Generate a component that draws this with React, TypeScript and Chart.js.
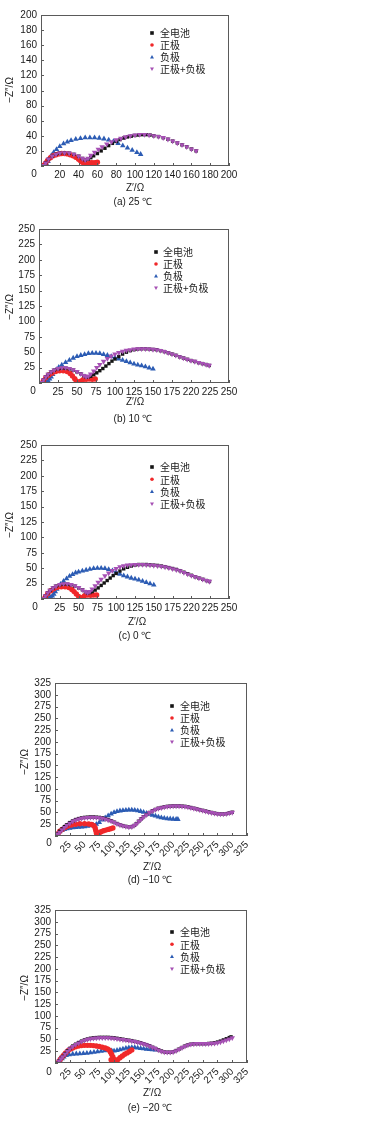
import React, { useEffect, useRef } from 'react';
import { Chart, registerables } from 'chart.js';

Chart.register(...registerables);

type Pt = [number, number];

// ---------- legend / series meta ----------
const SERIES_NAMES = ['全电池', '正极', '负极', '正极+负极'];
const SERIES_COLORS = ['#141414', '#f0282a', '#2c5cb4', '#a650b4'];
const SERIES_STYLES = ['rect', 'circle', 'triangle', 'triangle'];
const SERIES_ROT = [0, 0, 0, 180];
const SERIES_ORDER = [1, 2, 3, 0];
const SERIES_RADIUS = [2.4, 2.7, 3.2, 3.2];

// ---------- (a) 25 ℃ ----------
const A_FULL: Pt[] = [[3,0.5],[5,4],[8,9],[12,13],[16,15.5],[20,17],[25,17.5],[30,17],[35,15.5],[40,13],[44,10],[47,8],[50,9],[53,11],[56,13.5],[60,16.5],[64,20],[68,23.5],[72,27],[76,30],[80,32.5],[84,35],[88,37],[92,38.5],[96,39.5],[100,40.5],[104,41],[108,41.5],[112,41.5],[116,41],[120,40],[125,39],[130,37.5],[135,35.5],[140,33],[145,30.5],[150,28],[155,25.5],[160,22.5],[165,20]];
const A_POS: Pt[] = [[3,1],[5,4],[7,7.5],[10,11],[13,13.5],[16,15],[19,16],[22,16.5],[25,16.5],[28,16],[31,15],[34,13.5],[37,11.5],[40,9],[42,7],[44,5],[46,3],[48,2.5],[50,3],[52,4],[54,4.5],[56,4],[58,4.5],[60,5]];
const A_NEG: Pt[] = [[5,0],[6,2.5],[7.5,6],[9,10],[11,14],[13.5,18],[16.5,22],[20,26],[24,29.5],[28,32],[32,34],[37,35.5],[42,36.5],[47,37.5],[52,37.5],[57,37.5],[62,37],[67,36],[72,34.5],[77,32.5],[82,30],[87,27],[92,24],[97,21],[102,18],[106,15.5]];
const A_SUM: Pt[] = [[3,0.5],[5,4],[8,9],[12,13],[16,15.5],[20,17],[25,17.5],[30,17],[35,15.5],[40,13],[44,10],[47,8],[50,10],[53,14],[57,18],[61,22],[65,25.5],[70,29],[75,32],[80,34.5],[85,36.5],[90,38.5],[95,40],[100,41],[105,41.5],[110,41.5],[115,41],[120,40],[125,39],[130,37.5],[135,35.5],[140,33],[145,30.5],[150,28],[155,25.5],[160,22.5],[165,20]];
const A_XLABELS = ['', '20', '40', '60', '80', '100', '120', '140', '160', '180', '200'];
const A_YLABELS = ['', '20', '40', '60', '80', '100', '120', '140', '160', '180', '200'];

// ---------- (b) 10 ℃ ----------
const B_FULL: Pt[] = [[4,0.5],[6,5],[9,10],[12,14],[16,18],[20,21],[25,23],[30,24],[35,24],[40,23],[45,21],[50,18],[55,15],[59,12],[62,10],[65,10],[68,11],[72,13.5],[76,16.5],[80,20],[84,23.5],[88,27.5],[92,31.5],[96,35.5],[100,39],[105,43],[110,47],[115,50],[120,52.5],[125,54],[130,55],[135,55.5],[140,55.5],[145,55],[150,54.5],[155,54],[160,52.5],[165,51],[170,49],[175,47],[180,45],[185,42.5],[190,40.5],[195,38.5],[200,36.5],[205,35],[210,33],[215,31.5],[220,30],[224,28.5]];
const B_POS: Pt[] = [[4,0],[6,4],[9,9],[13,13],[17,16],[22,18.5],[27,20],[32,20],[37,18.5],[41,15.5],[44,11.5],[47,7],[49,3.5],[51,1.5],[53,1],[55,3],[58,5.5],[62,6],[66,6.5],[70,6],[74,6.5]];
const B_NEG: Pt[] = [[8,0],[10,1.5],[12,3.5],[14,6.5],[16,10],[18,14],[20,18],[23,22],[26,25.5],[30,29.5],[35,33.5],[40,37],[45,40.5],[50,43],[55,45],[60,46.5],[65,48],[70,48.5],[75,48.5],[80,48],[85,46.5],[90,45],[95,43],[100,41],[105,39],[110,37],[115,35],[120,33],[125,31],[130,29.5],[135,28],[140,26.5],[145,24.5],[150,23]];
const B_SUM: Pt[] = [[4,0.5],[6,5],[9,10],[12,14],[16,18],[20,21],[25,23.5],[30,24.5],[35,24.5],[40,23.5],[45,21.5],[50,18.5],[55,15],[59,12],[62,10],[65,11],[68,14.5],[72,19.5],[76,25],[80,30],[85,35],[90,39.5],[95,43.5],[100,47],[105,49.5],[110,51.5],[115,53],[120,54],[125,55],[130,55.5],[135,55.5],[140,55.5],[145,55],[150,54.5],[155,54],[160,52.5],[165,51],[170,49],[175,47],[180,45],[185,42.5],[190,40.5],[195,38.5],[200,36.5],[205,35],[210,33],[215,31.5],[220,30],[224,28.5]];
const B_XLABELS = ['', '25', '50', '75', '100', '125', '150', '175', '220', '225', '250'];
const B_YLABELS = ['', '25', '50', '75', '100', '125', '150', '175', '200', '225', '250'];

// ---------- (c) 0 ℃ ----------
const C_FULL: Pt[] = [[4,0.5],[6,5],[9,10],[12,14],[16,18],[20,21],[25,23],[30,24],[35,24],[40,23],[45,21],[50,18],[55,15],[59,12],[62,10],[65,10.5],[68,12],[72,14.5],[76,18],[80,22],[84,26],[88,30],[92,34],[96,38],[100,41.5],[105,45.5],[110,49],[115,51.5],[120,53.5],[125,55],[130,56],[135,56],[140,56],[145,55.5],[150,55],[155,54.5],[160,53.5],[165,52.5],[170,51],[175,49.5],[180,48],[185,46],[190,43.5],[195,41],[200,38.5],[205,36],[210,34],[215,32],[220,30],[224,28.5]];
const C_POS: Pt[] = [[4,0],[6,4],[9,9],[13,13.5],[17,16.5],[22,19],[27,20],[32,20],[37,18.5],[41,15.5],[44,12],[47,8],[50,4],[52,1],[54,0.5],[56,3],[58,5.5],[62,6.5],[66,6],[70,6.5],[74,6.5]];
const C_NEG: Pt[] = [[7,0],[9,1],[11,2],[13,3],[15,5],[17,8],[19,12],[21,16],[23,20],[26,24],[30,29],[34,33],[38,37],[42,40],[46,42.5],[50,44],[55,45.5],[60,47],[65,48.5],[70,49.5],[75,50],[80,50],[85,49.5],[90,48],[95,46],[100,43.5],[105,40.5],[110,38],[115,36],[120,34],[125,32.5],[130,31],[135,29],[140,27],[145,25],[150,23]];
const C_SUM: Pt[] = [[4,0.5],[6,5],[9,10],[12,14],[16,18],[20,21],[25,23.5],[30,24.5],[35,24.5],[40,23.5],[45,21.5],[50,18.5],[55,15],[59,12],[62,10],[65,12],[68,16],[72,21.5],[76,27],[80,32],[85,37.5],[90,42],[95,46],[100,49.5],[105,52],[110,54],[115,55],[120,55.5],[125,56],[130,56],[135,56],[140,55.5],[145,55],[150,54.5],[155,54],[160,53],[165,52],[170,50.5],[175,49],[180,47.5],[185,45.5],[190,43],[195,40.5],[200,38],[205,36],[210,34],[215,32],[220,30],[224,28.5]];
const C_XLABELS = ['', '25', '50', '75', '100', '125', '150', '175', '220', '225', '250'];
const C_YLABELS = ['', '25', '50', '75', '100', '125', '150', '175', '200', '225', '250'];

// ---------- (d) −10 ℃ ----------
const D_FULL: Pt[] = [[3,1],[5,5],[8,10],[12,15],[16,20],[20,24],[25,28.5],[30,32],[35,35],[40,37],[45,38.5],[50,39.5],[55,40],[60,40.5],[65,40.5],[70,40],[75,39.5],[80,38.5],[85,37],[90,35],[95,32.5],[100,29.5],[105,26.5],[110,24],[115,22],[120,20.5],[125,19.5],[130,20],[134,22.5],[138,26.5],[142,31.5],[146,36.5],[150,41],[155,45.5],[160,50],[165,53.5],[170,56.5],[175,59],[180,60.5],[185,62],[190,63],[195,63.5],[200,64],[205,64],[210,64],[215,63.5],[220,63],[225,62],[230,60.5],[235,59],[240,57.5],[245,56],[250,54.5],[255,53],[260,51.5],[265,50],[270,48.5],[275,47.5],[280,47],[285,47],[290,47.5],[295,49],[300,50.5]];
const D_POS: Pt[] = [[3,0],[5,5],[8,10],[12,14],[17,18],[22,21],[28,23.5],[35,25],[42,26],[50,26],[57,25.5],[62,24.5],[66,22],[68,17],[69,12],[70,7],[71,3],[71.5,0.5],[73,5],[75,7],[78,9],[82,11],[86,12.5],[90,14],[94,15.5],[98,17]];
const D_NEG: Pt[] = [[3,0],[5,5],[8,9],[12,12],[16,14],[20,15.5],[25,16.5],[30,17.5],[35,18.5],[40,19],[45,19.5],[50,20],[55,21],[60,22],[65,23],[70,25],[75,29],[80,34],[85,39],[90,43],[95,47],[100,50],[105,52],[110,53.5],[115,54.5],[120,55],[125,55.5],[130,55.5],[135,55],[140,54],[145,52.5],[150,50.5],[155,48.5],[160,46.5],[165,44.5],[170,42.5],[175,40.5],[180,39],[185,38],[190,37],[195,36.5],[200,36],[205,35.5],[208,35.5]];
const D_SUM: Pt[] = [[3,0.5],[5,4],[8,8],[12,13],[16,18],[20,22.5],[25,27],[30,31],[35,34],[40,36],[45,37.5],[50,38.5],[55,39],[60,39.5],[65,39.5],[70,39],[75,38.5],[80,37.5],[85,36],[90,34],[95,31.5],[100,29],[105,26],[110,23.5],[115,21.5],[120,20],[125,19],[130,19.5],[134,22],[138,26],[142,31],[146,36],[150,40.5],[155,45],[160,49.5],[165,53],[170,56],[175,58.5],[180,60],[185,61.5],[190,62.5],[195,63],[200,63.5],[205,63.5],[210,63.5],[215,63],[220,62.5],[225,61.5],[230,60],[235,58.5],[240,57],[245,55.5],[250,54],[255,52.5],[260,51],[265,49.5],[270,48],[275,47],[280,46.5],[285,46.5],[290,47],[295,48.5],[300,50]];
const D_XLABELS = ['', '25', '50', '75', '100', '125', '150', '175', '200', '225', '250', '275', '300', '325'];
const D_YLABELS = ['', '25', '50', '75', '100', '125', '150', '175', '200', '225', '250', '275', '300', '325'];

// ---------- (e) −20 ℃ ----------
const E_FULL: Pt[] = [[5,0.5],[7,5],[10,10],[13,14],[17,20],[21,26],[25,31],[30,36],[35,40],[40,43.5],[45,46.5],[50,49],[55,51],[60,52.5],[65,53.5],[70,54],[75,54.5],[80,54.5],[85,54.5],[90,54.5],[95,54],[100,53.5],[105,52.5],[110,51.5],[115,50.5],[120,49.5],[125,48.5],[130,47.5],[135,46],[140,44.5],[145,43],[150,41],[155,39],[160,36.5],[165,33.5],[170,31],[175,28],[180,25.5],[185,23.5],[190,23],[195,23],[200,24],[205,26.5],[210,29.5],[215,33],[220,36],[225,38.5],[230,40],[235,41],[240,41],[245,41],[250,41],[255,41],[260,41.5],[265,42],[270,43],[275,44.5],[280,46.5],[285,49],[290,51.5],[295,54],[298,55.5]];
const E_POS: Pt[] = [[5,0],[7,4],[9,8],[12,13],[15,17],[18,21.5],[22,26],[26,29.5],[30,32],[35,34.5],[40,36],[45,37],[50,37.5],[55,37.5],[60,37.5],[65,37],[70,36],[75,35],[80,33.5],[85,32],[89,30],[92,27],[94,23],[96,18],[98,13],[99.5,8],[100.5,4],[101,0.5],[103,3],[106,7],[110,11],[114,15],[118,18.5],[122,21.5],[126,24.5],[130,27.5],[97,4],[95,7]];
const E_NEG: Pt[] = [[7,0],[9,4],[12,9],[15,13],[19,16],[24,18],[30,19],[36,19.5],[42,20],[48,20.5],[54,21],[60,22],[66,23],[72,24],[78,25],[84,26],[90,26.5],[96,26],[100,25.5],[105,27],[110,28.5],[115,30],[120,31.5],[125,32.5],[130,33],[135,33],[140,32],[145,31],[150,30.5],[155,29.5],[160,29],[165,28.5],[170,28]];
const E_SUM: Pt[] = [[5,0],[7,4],[10,9],[13,13],[17,19],[21,25],[25,30],[30,35],[35,39],[40,42.5],[45,45.5],[50,48],[55,50],[60,51.5],[65,52.5],[70,53],[75,53.5],[80,53.5],[85,53.5],[90,53.5],[95,53],[100,52.5],[105,51.5],[110,50.5],[115,49.5],[120,48.5],[125,47.5],[130,46.5],[135,45.5],[140,44],[145,42.5],[150,40.5],[155,38.5],[160,36],[165,33],[170,30.5],[175,27.5],[180,25],[185,23],[190,22.5],[195,22.5],[200,23.5],[205,26],[210,29],[215,32.5],[220,35.5],[225,38],[230,39.5],[235,40.5],[240,41],[245,41],[250,41],[255,41],[260,41],[265,41.5],[270,42],[275,43],[280,44.5],[285,46.5],[290,48.5],[295,51],[300,53.5]];
const E_XLABELS = D_XLABELS;
const E_YLABELS = D_YLABELS;

interface Panel {
  top: number; height: number;
  l: number; r: number; t: number; b: number;
  xMax: number; xStep: number; yMax: number; yStep: number;
  xLabels: string[]; yLabels: string[]; rotate: boolean;
  series: Pt[][];
  leg: { mx: number; y0: number; dy: number; tx: number };
  yTitle: [number, number]; xTitle: [number, number];
  caption: string; cap: [number, number]; zero: [number, number];
}

const PANELS: Panel[] = [
  { top: 0, height: 215, l: 41, r: 229, t: 15, b: 166, xMax: 200, xStep: 20, yMax: 200, yStep: 20,
    xLabels: A_XLABELS, yLabels: A_YLABELS, rotate: false, series: [A_FULL, A_POS, A_NEG, A_SUM],
    leg: { mx: 152, y0: 33, dy: 12, tx: 160 }, yTitle: [10, 90], xTitle: [135, 188],
    caption: '(a) 25 ℃', cap: [133, 202], zero: [34, 174] },
  { top: 215, height: 215, l: 39, r: 229, t: 229, b: 383, xMax: 250, xStep: 25, yMax: 250, yStep: 25,
    xLabels: B_XLABELS, yLabels: B_YLABELS, rotate: false, series: [B_FULL, B_POS, B_NEG, B_SUM],
    leg: { mx: 156, y0: 252, dy: 12, tx: 163 }, yTitle: [10, 307], xTitle: [135, 402],
    caption: '(b) 10 ℃', cap: [133, 419], zero: [33, 391] },
  { top: 430, height: 220, l: 41, r: 229, t: 445, b: 599, xMax: 250, xStep: 25, yMax: 250, yStep: 25,
    xLabels: C_XLABELS, yLabels: C_YLABELS, rotate: false, series: [C_FULL, C_POS, C_NEG, C_SUM],
    leg: { mx: 152, y0: 467, dy: 12.3, tx: 160 }, yTitle: [10, 525], xTitle: [137, 622],
    caption: '(c) 0 ℃', cap: [135, 636], zero: [35, 607] },
  { top: 650, height: 240, l: 55, r: 247, t: 683, b: 836, xMax: 325, xStep: 25, yMax: 325, yStep: 25,
    xLabels: D_XLABELS, yLabels: D_YLABELS, rotate: true, series: [D_FULL, D_POS, D_NEG, D_SUM],
    leg: { mx: 172, y0: 706, dy: 12, tx: 180 }, yTitle: [25, 762], xTitle: [152, 867],
    caption: '(d) −10 ℃', cap: [150, 880], zero: [49, 843] },
  { top: 890, height: 247, l: 55, r: 247, t: 910, b: 1063, xMax: 325, xStep: 25, yMax: 325, yStep: 25,
    xLabels: E_XLABELS, yLabels: E_YLABELS, rotate: true, series: [E_FULL, E_POS, E_NEG, E_SUM],
    leg: { mx: 172, y0: 932, dy: 12.3, tx: 180 }, yTitle: [25, 988], xTitle: [152, 1093],
    caption: '(e) −20 ℃', cap: [150, 1108], zero: [49, 1072] },
];

const W = 383;
const FONT = '"Liberation Sans", Arial, sans-serif';
const CJK = '"Noto Sans CJK SC", sans-serif';
const XAXIS_H = 30;

function drawMarker(ctx: CanvasRenderingContext2D, i: number, x: number, y: number, r: number) {
  ctx.fillStyle = SERIES_COLORS[i];
  ctx.beginPath();
  const s = SERIES_STYLES[i];
  if (s === 'rect') {
    ctx.rect(x - r, y - r, 2 * r, 2 * r);
  } else if (s === 'circle') {
    ctx.arc(x, y, r, 0, Math.PI * 2);
  } else if (SERIES_ROT[i] === 180) {
    ctx.moveTo(x - r * 1.1, y - r * 0.8);
    ctx.lineTo(x + r * 1.1, y - r * 0.8);
    ctx.lineTo(x, y + r * 1.1);
  } else {
    ctx.moveTo(x - r * 1.1, y + r * 0.8);
    ctx.lineTo(x + r * 1.1, y + r * 0.8);
    ctx.lineTo(x, y - r * 1.1);
  }
  ctx.closePath();
  ctx.fill();
}

function PanelChart({ p }: { p: Panel }) {
  const ref = useRef<HTMLCanvasElement | null>(null);
  useEffect(() => {
    if (!ref.current) return;
    const off = p.top;
    const decor = {
      id: 'decor' + off,
      afterDatasetsDraw(chart: any) {
        const ctx: CanvasRenderingContext2D = chart.ctx;
        const { left, right, top, bottom } = chart.chartArea;
        ctx.save();
        // frame
        ctx.strokeStyle = '#5a5a5a';
        ctx.lineWidth = 1;
        ctx.strokeRect(Math.round(left) + 0.5, Math.round(top) + 0.5, Math.round(right - left) - 1, Math.round(bottom - top) - 1);
        // inward tick marks
        const xs = chart.scales.x, ys = chart.scales.y;
        ctx.beginPath();
        xs.ticks.forEach((t: any) => {
          const px = Math.round(xs.getPixelForValue(t.value)) + 0.5;
          ctx.moveTo(px, bottom);
          ctx.lineTo(px, bottom - 3);
        });
        ys.ticks.forEach((t: any) => {
          const py = Math.round(ys.getPixelForValue(t.value)) + 0.5;
          ctx.moveTo(left, py);
          ctx.lineTo(left + 3, py);
        });
        ctx.stroke();
        // corner zero
        ctx.fillStyle = '#1a1a1a';
        ctx.font = '10px ' + FONT;
        ctx.textAlign = 'center';
        ctx.textBaseline = 'middle';
        ctx.fillText('0', p.zero[0], p.zero[1] - off);
        // axis titles
        ctx.fillText('Z′/Ω', p.xTitle[0], p.xTitle[1] - off);
        ctx.fillText(p.caption, p.cap[0], p.cap[1] - off);
        ctx.save();
        ctx.translate(p.yTitle[0], p.yTitle[1] - off);
        ctx.rotate(-Math.PI / 2);
        ctx.fillText('−Z″/Ω', 0, 0);
        ctx.restore();
        // legend
        ctx.textAlign = 'left';
        ctx.font = '10px ' + CJK;
        SERIES_NAMES.forEach((name, i) => {
          const y = p.leg.y0 + i * p.leg.dy - off;
          drawMarker(ctx, i, p.leg.mx, y, 1.8);
          ctx.fillStyle = '#1a1a1a';
          ctx.fillText(name, p.leg.tx, y + 0.5);
        });
        ctx.restore();
      },
    };
    const chart = new Chart(ref.current, {
      type: 'scatter',
      data: {
        datasets: p.series.map((d, i) => ({
          label: SERIES_NAMES[i],
          data: d.map(([x, y]) => ({ x, y })),
          pointStyle: SERIES_STYLES[i] as any,
          rotation: SERIES_ROT[i],
          backgroundColor: SERIES_COLORS[i],
          borderColor: SERIES_COLORS[i],
          borderWidth: 0,
          pointRadius: SERIES_RADIUS[i],
          showLine: false,
          order: SERIES_ORDER[i],
        })),
      },
      options: {
        animation: false,
        responsive: false,
        devicePixelRatio: 1,
        events: [],
        layout: {
          autoPadding: false,
          padding: { left: 0, top: p.t - off, right: W - p.r, bottom: p.height - (p.b - off) - XAXIS_H },
        },
        plugins: { legend: { display: false }, tooltip: { enabled: false } },
        scales: {
          x: {
            type: 'linear', min: 0, max: p.xMax,
            grid: { display: false, drawTicks: false },
            border: { display: false },
            ticks: {
              stepSize: p.xStep, autoSkip: false, padding: 3,
              maxRotation: p.rotate ? 45 : 0, minRotation: p.rotate ? 45 : 0,
              color: '#1a1a1a', font: { family: FONT, size: 10 },
              callback: (v: any) => p.xLabels[Math.round(Number(v) / p.xStep)] ?? '',
            },
            afterFit: (s: any) => { s.height = XAXIS_H; },
          },
          y: {
            type: 'linear', min: 0, max: p.yMax,
            grid: { display: false, drawTicks: false },
            border: { display: false },
            ticks: {
              stepSize: p.yStep, autoSkip: false, padding: 4,
              color: '#1a1a1a', font: { family: FONT, size: 10 },
              callback: (v: any) => p.yLabels[Math.round(Number(v) / p.yStep)] ?? '',
            },
            afterFit: (s: any) => { s.width = p.l; },
          },
        },
      },
      plugins: [decor],
    } as any);
    return () => chart.destroy();
  }, [p]);
  return (
    <canvas
      ref={ref}
      width={W}
      height={p.height}
      style={{ position: 'absolute', left: 0, top: p.top, width: W, height: p.height }}
    />
  );
}

export default function App() {
  return (
    <div style={{ position: 'absolute', left: 0, top: 0, width: W, height: 1137, background: '#fff' }}>
      {PANELS.map((p, i) => <PanelChart key={i} p={p} />)}
    </div>
  );
}
